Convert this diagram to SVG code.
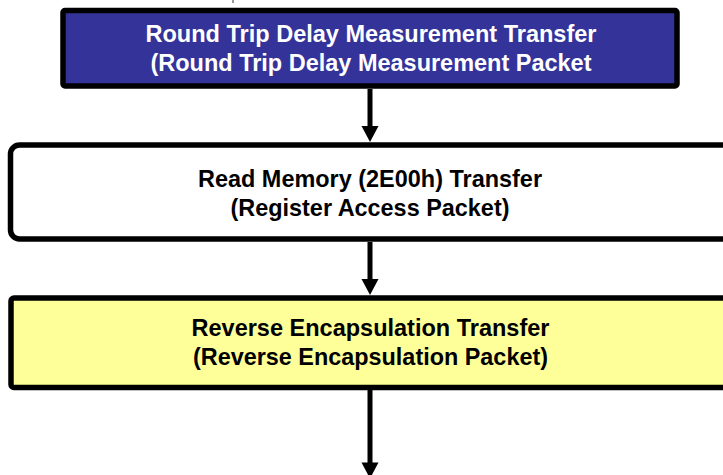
<svg xmlns="http://www.w3.org/2000/svg" width="723" height="475" viewBox="0 0 723 475">
  <style>
    .box { stroke: #000; stroke-width: 5.5; }
    .lbl { font-family: "Liberation Sans", Arial, sans-serif; font-weight: bold; font-size: 24px; text-anchor: middle; }
    .conn { stroke: #000; stroke-width: 5; fill: none; }
  </style>
  <rect width="723" height="475" fill="#fff"/>
  <line x1="233" y1="0" x2="233" y2="3" stroke="#333" stroke-width="1"/>

  <g id="connectors">
    <path class="conn" d="M370,89 V128" />
    <polygon points="361.5,126 378.5,126 370,142" fill="#000"/>
    <path class="conn" d="M370,242 V281" />
    <polygon points="361.5,279 378.5,279 370,295" fill="#000"/>
    <path class="conn" d="M370,390 V465" />
    <polygon points="361.5,462.5 378.5,462.5 370,478.5" fill="#000"/>
  </g>

  <g id="node-rtd">
    <rect class="box" x="63" y="10.5" width="614" height="75.5" rx="2" fill="#333399"/>
    <text class="lbl" x="371" y="42" fill="#fff" textLength="451" lengthAdjust="spacingAndGlyphs">Round Trip Delay Measurement Transfer</text>
    <text class="lbl" x="371" y="71" fill="#fff" textLength="441" lengthAdjust="spacingAndGlyphs">(Round Trip Delay Measurement Packet</text>
  </g>

  <g id="node-readmem">
    <rect class="box" x="10.5" y="145" width="740" height="94" rx="9" fill="#fff" stroke-width="6"/>
    <text class="lbl" x="370" y="187" fill="#000" textLength="344" lengthAdjust="spacingAndGlyphs">Read Memory (2E00h) Transfer</text>
    <text class="lbl" x="370" y="216" fill="#000" textLength="279" lengthAdjust="spacingAndGlyphs">(Register Access Packet)</text>
  </g>

  <g id="node-revenc">
    <rect class="box" x="11" y="298" width="740" height="89.5" rx="3" fill="#ffff99"/>
    <text class="lbl" x="370.5" y="336" fill="#000" textLength="358" lengthAdjust="spacingAndGlyphs">Reverse Encapsulation Transfer</text>
    <text class="lbl" x="370.5" y="365" fill="#000" textLength="355" lengthAdjust="spacingAndGlyphs">(Reverse Encapsulation Packet)</text>
  </g>
</svg>
